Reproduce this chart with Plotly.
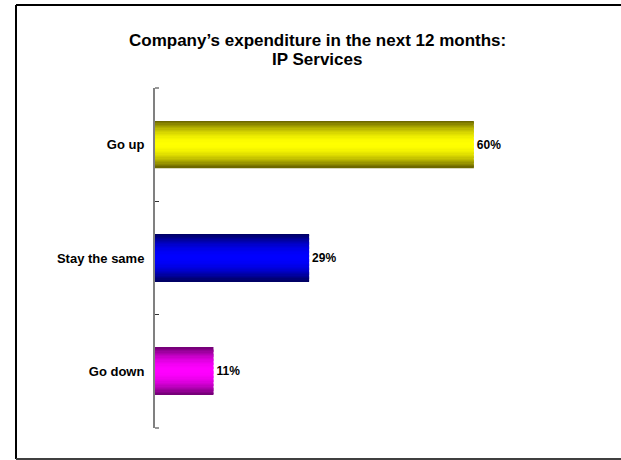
import numpy as np
import plotly.graph_objects as go

# Survey answers and their shares (percent)
categories = ["Go up", "Stay the same", "Go down"]
shares = [60, 29, 11]
value_labels = [f"{v}%" for v in shares]

# Bar shading: bright centre colour and dark edge colour per answer
bright_rgb = [(255, 255, 0), (0, 0, 255), (255, 0, 255)]
dark_rgb = [(100, 94, 0), (0, 0, 92), (110, 0, 112)]

W, H = 621, 460
L, R, T, B = 155, 94, 88, 32
pw, ph = W - L - R, H - T - B

FONT = "Arial, Liberation Sans, sans-serif"
BAR_H = 0.415
N = 36
step = BAR_H / N

fig = go.Figure()

# Cylinder-like bars: thin horizontal strips, dark at the edges, bright in the middle
for i in range(N):
    t = (i + 0.5) / N
    f = np.sin(np.pi * t) ** 0.9
    cols = [
        "rgb(%d,%d,%d)" % tuple(int(round(d + (b - d) * f)) for b, d in zip(bc, dc))
        for bc, dc in zip(bright_rgb, dark_rgb)
    ]
    w = step * 1.2 if i < N - 1 else step
    fig.add_trace(go.Bar(
        x=shares, y=categories, orientation="h",
        width=w, offset=-BAR_H / 2 + i * step,
        marker=dict(color=cols, line=dict(width=0)),
        hoverinfo="skip", showlegend=False,
    ))

# Value labels at the bar ends
fig.add_trace(go.Bar(
    x=shares, y=categories, orientation="h", width=BAR_H,
    marker=dict(color="rgba(0,0,0,0)", line=dict(width=0)),
    text=value_labels, textposition="outside", cliponaxis=False,
    textfont=dict(family=FONT, size=12, color="black", weight="bold"),
    hoverinfo="skip", showlegend=False,
))

def px_x(x):
    return (x - L) / pw

def px_y(y):
    return 1 + (T - y) / ph

# Chart frame
fig.add_shape(type="line", xref="paper", yref="paper",
              x0=px_x(16), x1=px_x(16), y0=px_y(5), y1=px_y(459),
              line=dict(color="black", width=2))
fig.add_shape(type="line", xref="paper", yref="paper",
              x0=px_x(16), x1=px_x(640), y0=px_y(5), y1=px_y(5),
              line=dict(color="black", width=2))
fig.add_shape(type="line", xref="paper", yref="paper",
              x0=px_x(16), x1=px_x(640), y0=px_y(459), y1=px_y(459),
              line=dict(color="#404040", width=2))

# End ticks closing the category axis at top and bottom
for yy in (0, 1):
    fig.add_shape(type="line", xref="paper", yref="paper",
                  x0=0, x1=px_x(159), y0=yy, y1=yy,
                  line=dict(color="#333333", width=1))

# Two-line title
title_font = dict(family=FONT, size=17, color="black", weight="bold")
fig.add_annotation(text="Company’s expenditure in the next 12 months:",
                   xref="paper", yref="paper", x=px_x(317), y=px_y(40),
                   xanchor="center", yanchor="middle", showarrow=False, font=title_font)
fig.add_annotation(text="IP Services",
                   xref="paper", yref="paper", x=px_x(317), y=px_y(59),
                   xanchor="center", yanchor="middle", showarrow=False, font=title_font)

fig.update_layout(
    width=W, height=H,
    margin=dict(l=L, r=R, t=T, b=B, pad=0),
    paper_bgcolor="white", plot_bgcolor="white",
    barmode="overlay",
    xaxis=dict(range=[0, 70], visible=False),
    yaxis=dict(
        type="category", categoryorder="array", categoryarray=categories,
        autorange="reversed",
        showline=True, linecolor="#808080", linewidth=2,
        ticks="inside", tickson="boundaries", ticklen=4,
        tickcolor="#333333", tickwidth=1,
        showgrid=False, zeroline=False,
        tickfont=dict(family=FONT, size=13, color="black", weight="bold"),
        ticklabelstandoff=6,
    ),
)

fig.write_html("out.html")
